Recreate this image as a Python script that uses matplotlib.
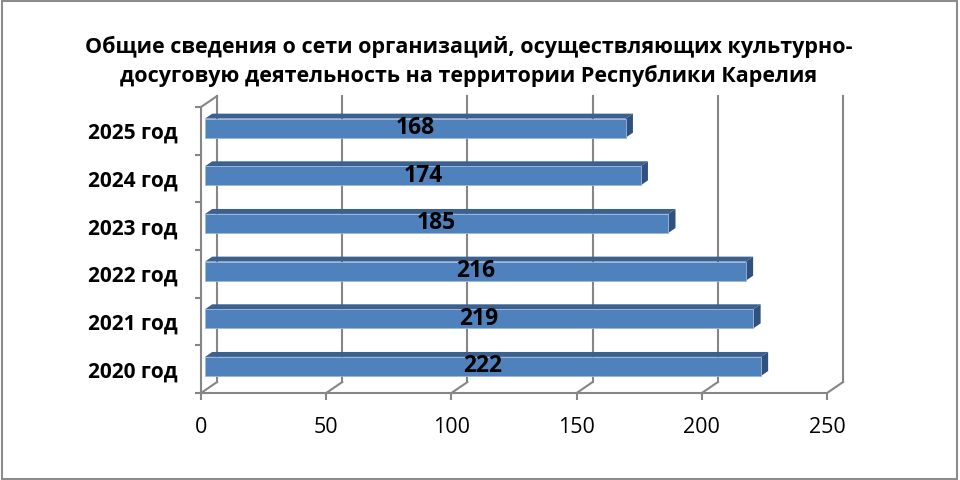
import matplotlib
matplotlib.use("Agg")
import matplotlib.pyplot as plt
from matplotlib.patches import Rectangle, Polygon

plt.rcParams['font.family'] = ['Open Sans', 'DejaVu Sans']

years = ["2020 год", "2021 год", "2022 год", "2023 год", "2024 год", "2025 год"]
values = [222, 219, 216, 185, 174, 168]
xticks = [0, 50, 100, 150, 200, 250]
title = ("Общие сведения о сети организаций, осуществляющих культурно-\n"
         "досуговую деятельность на территории Республики Карелия")

grid_col = '#868686'
front_col = '#4F81BD'
top_col = '#3B6190'
side_col = '#2F5180'

def main():
    fig = plt.figure(figsize=(9.6, 4.8), dpi=100)
    fig.patch.set_facecolor('white')
    ax = fig.add_axes([0.2094, 0.18125, 0.6521, 0.5958])
    ax.set_xlim(0, 250)
    ax.set_ylim(0, len(years))
    ax.patch.set_visible(False)

    # depth of the pseudo 3d box, in data units
    dx = 6.4
    dy = 0.23

    # back wall gridlines + floor diagonals
    for x in xticks:
        ax.plot([x + dx, x + dx], [dy, len(years) + dy], color=grid_col, lw=1.5,
                clip_on=False, zorder=1)
        ax.plot([x, x + dx], [0, dy], color=grid_col, lw=1.5, clip_on=False, zorder=1)
    # left wall top edge
    ax.plot([0, dx], [len(years), len(years) + dy], color=grid_col, lw=1.5,
            clip_on=False, zorder=1)

    # bars
    f0 = 0.25
    d = 0.45
    h = 0.40
    for i, v in enumerate(values):
        x0 = f0 * dx
        x1 = v + f0 * dx
        yc = i + 0.5 + f0 * dy
        yb = yc - h / 2
        yt = yc + h / 2
        ax.add_patch(Polygon([(x0, yt), (x1, yt), (x1 + d * dx, yt + d * dy),
                              (x0 + d * dx, yt + d * dy)], closed=True,
                             facecolor=top_col, edgecolor='none', zorder=3, clip_on=False))
        ax.add_patch(Polygon([(x1, yb), (x1, yt), (x1 + d * dx, yt + d * dy),
                              (x1 + d * dx, yb + d * dy)], closed=True,
                             facecolor=side_col, edgecolor='none', zorder=3, clip_on=False))
        ax.add_patch(Rectangle((x0, yb), v, h, facecolor=front_col,
                               edgecolor='#9DB5D6', lw=0.6, zorder=4, clip_on=False))
        ax.text(x0 + v / 2, yc, str(v), ha='center', va='center', fontsize=16.5,
                fontweight='bold', color='black', zorder=5)

    for s in ['top', 'right']:
        ax.spines[s].set_visible(False)
    for s in ['left', 'bottom']:
        ax.spines[s].set_color(grid_col)
        ax.spines[s].set_linewidth(1.5)
        ax.spines[s].set_zorder(2)

    ax.set_xticks(xticks)
    ax.set_xticklabels([str(t) for t in xticks])
    ax.tick_params(axis='x', direction='out', length=5, width=1.5, color=grid_col,
                   labelsize=15.5, pad=12)

    ax.set_yticks(range(len(years) + 1))
    ax.set_yticklabels([])
    ax.tick_params(axis='y', which='major', direction='out', length=4, width=1.5,
                   color=grid_col)
    ax.set_yticks([i + 0.5 for i in range(len(years))], minor=True)
    ax.set_yticklabels(years, minor=True, fontsize=15, fontweight='bold')
    ax.tick_params(axis='y', which='minor', length=0, pad=17)

    fig.text(0.488, 0.872, title, ha='center', va='center', fontsize=15.5,
             fontweight='bold', linespacing=1.4)

    fig.add_artist(Rectangle((0.002, 0.003), 0.995, 0.994, transform=fig.transFigure,
                             fill=False, edgecolor='#8C8C8C', lw=1.5))

    fig.savefig('out.png', dpi=100, facecolor='white')

main()
